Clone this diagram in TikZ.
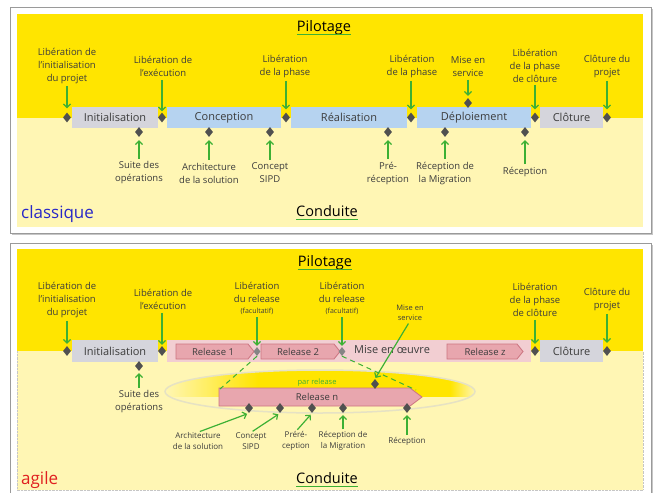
\documentclass[tikz,border=0pt]{standalone}
\usepackage{fontspec}
\setmainfont{Open Sans}
\usetikzlibrary{shapes.geometric,arrows.meta,calc}
\definecolor{yel}{HTML}{FFE500}
\definecolor{lyel}{HTML}{FFF6B4}
\definecolor{grn}{HTML}{3CB034}
\definecolor{txt}{HTML}{3C3C3C}
\definecolor{gbox}{HTML}{D5D5DC}
\definecolor{bbox}{HTML}{B6D3F0}
\definecolor{pbg}{HTML}{F2CED2}
\definecolor{rfill}{HTML}{E8A6AE}
\definecolor{rline}{HTML}{CC7480}
\definecolor{dia}{HTML}{505050}
\definecolor{ldia}{HTML}{858585}
\definecolor{frm}{HTML}{9A9A9A}
\definecolor{ellc}{HTML}{E6E2C4}
\definecolor{clblue}{HTML}{2828C8}
\definecolor{agred}{HTML}{E02020}
\pgfdeclarehorizontalshading{ellfade}{100bp}{color(0bp)=(lyel); color(25bp)=(lyel); color(40bp)=(yel); color(71bp)=(yel); color(75bp)=(lyel); color(100bp)=(lyel)}
\begin{document}
\begin{tikzpicture}[x=1pt,y=-1pt,
 lbl/.style={font=\fontsize{9.5}{13}\selectfont, align=center, text=txt, inner sep=0pt},
 slbl/.style={font=\fontsize{8}{11}\selectfont, align=center, text=txt, inner sep=0pt},
 tlbl/.style={font=\fontsize{7.5}{10}\selectfont, align=center, text=txt, inner sep=0pt},
 phase/.style={minimum height=21pt, inner sep=0pt, font=\fontsize{11}{13}\selectfont, text=txt},
 reltxt/.style={font=\fontsize{9.5}{11}\selectfont, text=txt, inner sep=0pt},
 ms/.style={diamond, fill=dia, minimum width=8pt, minimum height=10pt, inner sep=0pt},
 lms/.style={ms, fill=ldia, minimum width=7pt, minimum height=9pt},
 garr/.style={draw=grn, line width=1.2pt, -{Straight Barb[length=3.5pt,width=7pt]}},
 ttl/.style={font=\fontsize{14.5}{16}\selectfont, text=black, inner sep=0pt},
 rel/.style={draw=rline, fill=rfill, line width=0.8pt},
 uline/.style={draw=grn, line width=0.8pt}
]
\useasboundingbox (0,0) rectangle (654,493);
\fill[white] (0,0) rectangle (654,493);

% ================= TOP PANEL (classique) =================
\fill[gray!45] (12,9) rectangle (653,235);
\draw[frm, line width=1pt, fill=white] (10,7) rectangle (651,233);
\fill[yel] (17,14) rectangle (643,117.5);
\fill[lyel] (17,117.5) rectangle (643,227);

\node[phase, fill=gbox, minimum width=86pt] (ci) at (115,117.5) {Initialisation};
\node[phase, fill=bbox, minimum width=114pt] (cc) at (224,117.5) {Conception};
\node[phase, fill=bbox, minimum width=116pt] (cr) at (349,117.5) {Réalisation};
\node[phase, fill=bbox, minimum width=114pt] (cd) at (474,117.5) {Déploiement};
\node[phase, fill=gbox, minimum width=63pt] (cl) at (571.5,117.5) {Clôture};

\node[ms] (d1) at (67,117.5) {};
\node[ms] (d2) at (162,117.5) {};
\node[ms] (d3) at (286,117.5) {};
\node[ms] (d4) at (411,117.5) {};
\node[ms] (d5) at (535,117.5) {};
\node[ms] (d6) at (607,117.5) {};
\node[ms] (dm) at (468,103) {};

\node[ms] (b1) at (139,132) {};
\node[ms] (b2) at (209,132) {};
\node[ms] (b3) at (270,132) {};
\node[ms] (b4) at (388,132) {};
\node[ms] (b5) at (445,132) {};
\node[ms] (b6) at (525,132) {};

\node[lbl] (t1) at (67,66) {Libération de\\l’initialisation\\du projet};
\node[lbl] (t2) at (163,66.5) {Libération de\\l’exécution};
\node[lbl] (t3) at (285,66.5) {Libération\\de la phase};
\node[lbl] (t4) at (412,66.5) {Libération\\de la phase};
\node[lbl] (t5) at (468,66.5) {Mise en\\service};
\node[lbl] (t6) at (535,66) {Libération\\de la phase\\de clôture};
\node[lbl] (t7) at (607,66.5) {Clôture du\\projet};

\draw[garr, shorten <=2pt, shorten >=4pt] (t1.south -| d1.north) -- (d1.north);
\draw[garr, shorten <=3pt, shorten >=1pt] (t2.south -| d2.north) -- (d2.north);
\draw[garr, shorten <=3pt, shorten >=3pt] (t3.south -| d3.north) -- (d3.north);
\draw[garr, shorten <=3pt, shorten >=3pt] (t4.south -| d4.north) -- (d4.north);
\draw[garr, shorten <=3pt, shorten >=2pt] (t5.south -| dm.north) -- (dm.north);
\draw[garr, shorten <=2pt, shorten >=3pt] (t6.south -| d5.north) -- (d5.north);
\draw[garr, shorten <=3pt, shorten >=3pt] (t7.south -| d6.north) -- (d6.north);

\node[lbl] (s1) at (139,173) {Suite des\\opérations};
\node[lbl] (s2) at (209,173) {Architecture\\de la solution};
\node[lbl] (s3) at (270,173) {Concept\\SIPD};
\node[lbl] (s4) at (388,173) {Pré-\\réception};
\node[lbl] (s5) at (445,173) {Réception de\\la Migration};
\node[lbl] (s6) at (525,172) {Réception};

\draw[garr, shorten <=3pt, shorten >=3pt] (s1.north -| b1.south) -- (b1.south);
\draw[garr, shorten <=3pt, shorten >=3pt] (s2.north -| b2.south) -- (b2.south);
\draw[garr, shorten <=3pt, shorten >=3pt] (s3.north -| b3.south) -- (b3.south);
\draw[garr, shorten <=3pt, shorten >=3pt] (s4.north -| b4.south) -- (b4.south);
\draw[garr, shorten <=3pt, shorten >=3pt] (s5.north -| b5.south) -- (b5.south);
\draw[garr, shorten <=3pt, shorten >=3pt] (s6.north -| b6.south) -- (b6.south);

\node[ttl] (pil1) at (324,28) {Pilotage};
\draw[uline] ($(pil1.base west)+(0,2.5)$) -- ($(pil1.base east)+(0,2.5)$);
\node[ttl] (con1) at (327,211) {Conduite};
\draw[uline] ($(con1.base west)+(0,2.5)$) -- ($(con1.base east)+(0,2.5)$);
\node[font=\fontsize{17}{19}\selectfont, text=clblue, inner sep=0pt, anchor=west] (cls) at (21,214) {classique};

% ================= BOTTOM PANEL (agile) =================
\fill[white] (10,241) rectangle (654,493);
\fill[gray!45] (651,245) rectangle (653,493);
\draw[frm, line width=1pt] (10,500) -- (10,243) -- (651,243) -- (651,500);
\fill[yel] (17,249) rectangle (643,351);
\fill[lyel] (17,351) rectangle (643,490);
\draw[gray!45, densely dotted] (17,351) -- (17,490) -- (643,490) -- (643,351);

\node[phase, fill=gbox, minimum width=86pt, minimum height=22pt] (ai) at (115,351) {Initialisation};
\node[phase, fill=pbg, minimum width=364pt, minimum height=22pt] (am) at (349,351) {};
\node[phase] (amt) at (392,350) {Mise en œuvre};
\node[phase, fill=gbox, minimum width=63pt, minimum height=22pt] (acl) at (571.5,351) {Clôture};

\draw[rel] (176,344) -- (248,344) -- (254,351.5) -- (248,359) -- (176,359) -- cycle;
\node[reltxt] (r1) at (213,351.5) {Release 1};
\draw[rel] (261,344) -- (334,344) -- (340,351.5) -- (334,359) -- (261,359) -- cycle;
\node[reltxt] (r2) at (298,351.5) {Release 2};
\draw[rel] (447,344) -- (517,344) -- (523,351.5) -- (517,359) -- (447,359) -- cycle;
\node[reltxt] (rz) at (485,351.5) {Release z};

\node[ms] (a1) at (67,351) {};
\node[ms] (a2) at (162,351) {};
\node[lms] (r1d) at (257,351.5) {};
\node[lms] (r2d) at (342,351.5) {};
\node[ms] (a5) at (535,351) {};
\node[ms] (a6) at (607,351) {};
\node[ms] (ab1) at (139,366) {};

% release n ellipse
\begin{scope}
\clip (160,360) rectangle (480,396);
\shade[shading=ellfade] (320,391.5) ellipse [x radius=155, y radius=21.5];
\end{scope}
\draw[ellc, line width=1.5pt] (320,391.5) ellipse [x radius=155, y radius=21.5];

\draw[rel] (219,388) -- (410,388) -- (422,397) -- (410,406) -- (219,406) -- cycle;
\node[reltxt] (rn) at (317,397) {Release n};
\coordinate (rnw) at (220,389);
\coordinate (rne) at (416,390);
\node[font=\fontsize{7.5}{9}\selectfont, text=grn, inner sep=0pt] (par) at (317,382.5) {par release};

\draw[grn, dash pattern=on 5pt off 4pt, line width=1pt] (r1d.south) -- (rnw);
\draw[grn, dash pattern=on 5pt off 4pt, line width=1pt] (r2d.south) -- (rne);

\node[ms] (n1) at (249,408) {};
\node[ms] (n2) at (280,408) {};
\node[ms] (n3) at (312,408) {};
\node[ms] (n4) at (343,408) {};
\node[ms] (n5) at (407,408) {};
\node[ms] (nm) at (375,384) {};

\node[lbl] (v1) at (67,300) {Libération de\\l’initialisation\\du projet};
\node[lbl] (v2) at (163,299.5) {Libération de\\l’exécution};
\node[lbl] (v3) at (257,298) {Libération\\du release\\[-2pt]{\fontsize{7}{8}\selectfont (facultatif)}};
\node[lbl] (v4) at (342,298) {Libération\\du release\\[-2pt]{\fontsize{7}{8}\selectfont (facultatif)}};
\node[lbl] (v5) at (535,300) {Libération\\de la phase\\de clôture};
\node[lbl] (v6) at (607,299.5) {Clôture du\\projet};
\node[tlbl] (vm) at (410,313) {Mise en\\service};

\draw[garr, shorten <=3pt, shorten >=2pt] (v1.south -| a1.north) -- (a1.north);
\draw[garr, shorten <=3pt, shorten >=1pt] (v2.south -| a2.north) -- (a2.north);
\draw[garr, shorten <=3pt, shorten >=1pt] (v3.south -| r1d.north) -- (r1d.north);
\draw[garr, shorten <=3pt, shorten >=1pt] (v4.south -| r2d.north) -- (r2d.north);
\draw[garr, shorten <=3pt, shorten >=2pt] (v5.south -| a5.north) -- (a5.north);
\draw[garr, shorten <=3pt, shorten >=3pt] (v6.south -| a6.north) -- (a6.north);
\draw[garr, shorten <=3pt, shorten >=1pt] (vm.south) -- (nm.north);

\node[lbl] (vs) at (139,402) {Suite des\\opérations};
\draw[garr, shorten <=3pt, shorten >=2pt] (vs.north -| ab1.south) -- (ab1.south);

\node[slbl] (u1) at (198,441) {Architecture\\de la solution};
\node[slbl] (u2) at (251,441) {Concept\\SIPD};
\node[slbl] (u3) at (296,441) {Préré-\\ception};
\node[slbl] (u4) at (343,441) {Réception de\\la Migration};
\node[slbl] (u5) at (407,441) {Réception};

\draw[garr, shorten <=2pt, shorten >=2pt] (u1.north) -- (n1.south);
\draw[garr, shorten <=2pt, shorten >=2pt] (u2.north) -- (n2.south);
\draw[garr, shorten <=2pt, shorten >=2pt] (u3.north) -- (n3.south);
\draw[garr, shorten <=2pt, shorten >=2pt] (u4.north -| n4.south) -- (n4.south);
\draw[garr, shorten <=2pt, shorten >=2pt] (u5.north -| n5.south) -- (n5.south);

\node[ttl] (pil2) at (325,263) {Pilotage};
\draw[uline] ($(pil2.base west)+(0,2.5)$) -- ($(pil2.base east)+(0,2.5)$);
\node[ttl] (con2) at (327,478) {Conduite};
\draw[uline] ($(con2.base west)+(0,2.5)$) -- ($(con2.base east)+(0,2.5)$);
\node[font=\fontsize{17}{19}\selectfont, text=agred, inner sep=0pt, anchor=west] (agl) at (21,480) {agile};
\end{tikzpicture}
\end{document}
